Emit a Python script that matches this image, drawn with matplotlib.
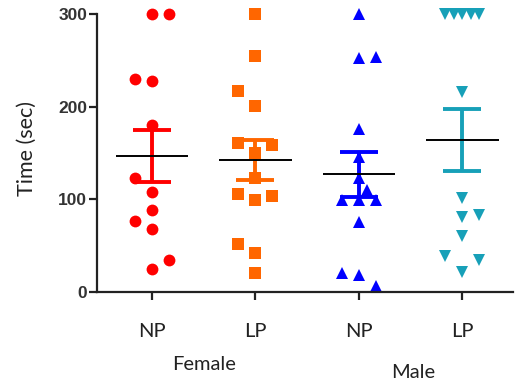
import numpy as np
import matplotlib
matplotlib.use('Agg')
import matplotlib.pyplot as plt

# groups on the x axis
groups = ['NP', 'LP', 'NP', 'LP']
sexes = ['Female', 'Male']

# time in seconds
female_np = [300, 300, 230, 228, 180, 123, 108, 88, 77, 68, 35, 25]
female_lp = [300, 255, 217, 201, 161, 159, 150, 123, 106, 104, 99, 52, 42, 21]
male_np = [300, 254, 252, 176, 146, 123, 110, 99, 99, 99, 76, 20, 18, 7]
male_lp = [300, 300, 300, 300, 300, 216, 101, 83, 81, 60, 39, 35, 22]

# horizontal spread of the dots (in slots), layout only
spread_fnp = [0, 1, -1, 0, 0, -1, 0, 0, -1, 0, 1, 0]
spread_flp = [0, 0, -1, 0, -1, 1, 0, 0, -1, 1, 0, -1, 0, 0]
spread_mnp = [0, 1, 0, 0, 0, 0, 0.5, -1, 0, 1, 0, -1, 0, 1]
spread_mlp = [-1, -0.5, 0, 0.5, 1, 0, 0, 1, 0, 0, -1, 1, 0]

data = [female_np, female_lp, male_np, male_lp]
spreads = [spread_fnp, spread_flp, spread_mnp, spread_mlp]
colors = ['#FF0000', '#FF6600', '#0000FF', '#17A0B8']
markers = ['o', 's', '^', 'v']
msizes = [8.5, 8.5, 9, 9]

W, H = 515, 381
fig = plt.figure(figsize=(W / 100, H / 100), dpi=100)
ax = fig.add_axes([97 / W, 1 - 292 / H, (513 - 97) / W, (292 - 14) / H])

slot = 0.165
for i, vals in enumerate(data):
    vals = np.array(vals, dtype=float)
    xs = i + np.array(spreads[i]) * slot
    ax.plot(xs, vals, linestyle='none', marker=markers[i], color=colors[i],
            markersize=msizes[i], markeredgewidth=0, zorder=2, clip_on=False)
    m = vals.mean()
    sem = vals.std(ddof=1) / np.sqrt(len(vals))
    ax.errorbar([i], [m], yerr=[sem], fmt='none', ecolor=colors[i],
                elinewidth=2.8, capsize=13.5, capthick=2.8, zorder=3)
    ax.hlines(m, i - 0.35, i + 0.35, color='black', linewidth=1.4, zorder=4)

ax.set_xlim(-0.53, 3.49)
ax.set_ylim(0, 300)
ax.set_yticks([0, 100, 200, 300])
ax.set_xticks(range(4))
ax.set_xticklabels(groups, fontfamily='Lato', fontsize=14.5, color='#222222')
for lab in ax.get_yticklabels():
    lab.set_fontfamily('Liberation Sans')
    lab.set_fontweight('bold')
    lab.set_fontsize(12.5)
    lab.set_color('#333333')

for s in ['top', 'right']:
    ax.spines[s].set_visible(False)
for s in ['left', 'bottom']:
    ax.spines[s].set_linewidth(1.6)
    ax.spines[s].set_color('#222222')
ax.tick_params(axis='y', length=6, width=1.6, pad=1, color='#222222')
ax.tick_params(axis='x', length=6, width=1.6, pad=16, color='#222222')

fig.text(27 / W, 1 - 148 / H, 'Time (sec)', rotation=90, ha='center', va='center',
         fontfamily='Lato', fontsize=15.5, color='#222222')

trans = matplotlib.transforms.blended_transform_factory(ax.transData, fig.transFigure)
ax.text(0.5, 1 - 365 / H, sexes[0], transform=trans, ha='center', va='center',
        fontfamily='Lato', fontsize=14.5, color='#222222')
ax.text(2.53, 1 - 372 / H, sexes[1], transform=trans, ha='center', va='center',
        fontfamily='Lato', fontsize=14.5, color='#222222')

fig.savefig('out.png', dpi=100)
